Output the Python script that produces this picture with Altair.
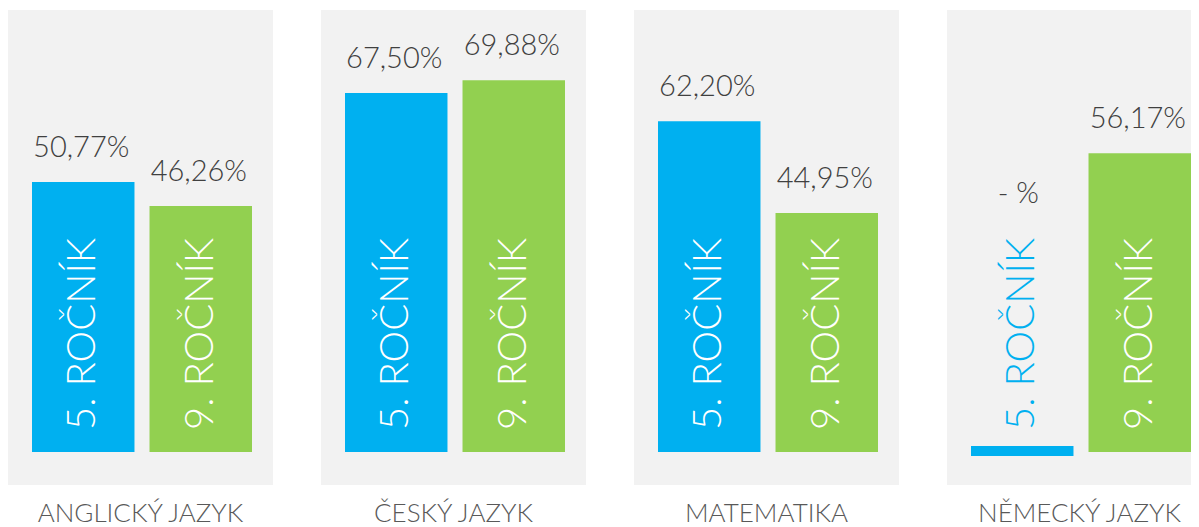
import altair as alt
import pandas as pd

# ---- data ----
subjects = ["ANGLICKÝ JAZYK", "ČESKÝ JAZYK", "MATEMATIKA", "NĚMECKÝ JAZYK"]
grades = ["5. ROČNÍK", "9. ROČNÍK"]
grade5 = [50.77, 67.50, 62.20, None]
grade9 = [46.26, 69.88, 44.95, 56.17]

rows = []
for s, v5, v9 in zip(subjects, grade5, grade9):
    for g, v in zip(grades, (v5, v9)):
        lab = (f"{v:.2f}".replace(".", ",") + "%") if v is not None else "- %"
        rows.append({"subject": s, "grade": g, "value": v, "label": lab})
df = pd.DataFrame(rows)

FONT = "Lato"
BLUE = "#00B0F0"
GREEN = "#92D050"
BG = "#F2F2F2"

color_scale = alt.Scale(domain=grades, range=[BLUE, GREEN])
x_scale = alt.Scale(domain=grades, range=[24, 244], paddingInner=0.128, paddingOuter=0)
y_scale = alt.Scale(domain=[-6.2, 83.1], nice=False, zero=False)


def panel(subject, width, title_dx):
    base = alt.Chart(df).transform_filter(alt.datum.subject == subject)
    x = alt.X("grade:N", scale=x_scale, axis=None)
    bars = base.transform_filter("isValid(datum.value)").mark_bar().encode(
        x=x,
        y=alt.Y("value:Q", scale=y_scale, axis=None),
        y2=alt.datum(0),
        color=alt.Color("grade:N", scale=color_scale, legend=None),
    )
    stub = base.transform_filter("!isValid(datum.value)").mark_bar().encode(
        x=x,
        y=alt.datum(-0.75),
        y2=alt.datum(1.13),
        color=alt.Color("grade:N", scale=color_scale, legend=None),
    )
    vals = base.transform_filter("isValid(datum.value)").mark_text(
        baseline="alphabetic", dy=-25, dx=-2, fontSize=29, font=FONT, fontWeight=300,
        color="#404040"
    ).encode(x=x, y=alt.Y("value:Q", scale=y_scale), text="label:N")
    miss = base.transform_filter("!isValid(datum.value)").mark_text(
        baseline="alphabetic", dy=-249, dx=-4, fontSize=29, font=FONT, fontWeight=300,
        color="#404040"
    ).encode(x=x, y=alt.datum(0), text="label:N")
    gtxt = base.mark_text(
        angle=270, align="left", baseline="middle", dx=22, fontSize=40, font=FONT,
        fontWeight=300
    ).encode(
        x=x,
        y=alt.datum(0),
        text="grade:N",
        color=alt.condition(alt.expr.isValid(alt.datum.value), alt.value("white"), alt.value(BLUE)),
    )
    return alt.layer(bars, stub, vals, miss, gtxt).properties(
        width=width,
        height=475,
        title=alt.Title(subject, orient="bottom", offset=16, dx=title_dx, font=FONT,
                        fontSize=26, fontWeight=300, color="#595959"),
    )


widths = [265, 265, 265, 244]
dxs = [0, 0, 0, 10.5]
chart = alt.hconcat(
    *[panel(s, w, d) for s, w, d in zip(subjects, widths, dxs)], spacing=48
).properties(
    padding={"left": 0, "top": 2, "right": 0, "bottom": 0}
).configure_view(fill=BG, stroke=None)

chart.save("out.html", embed_options={"renderer": "svg", "actions": False})
